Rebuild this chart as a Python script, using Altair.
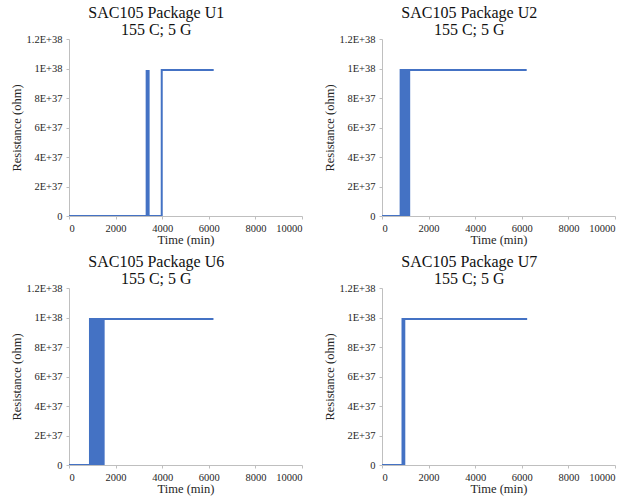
import altair as alt
import pandas as pd

BLUE = "#4472C4"
HIGH = 9.9e37

# Step traces (time in min, resistance in ohm)
u1_time = [0, 3980, 3980, 6210]
u1_res = [0, 0, HIGH, HIGH]
u2_time = [0, 800, 800, 6210]
u2_res = [0, 0, HIGH, HIGH]
u6_time = [0, 900, 900, 6200]
u6_res = [0, 0, HIGH, HIGH]
u7_time = [0, 880, 880, 6230]
u7_res = [0, 0, HIGH, HIGH]

# Intermittent (rapid open/short toggling) regions drawn as filled bands
u1_band = (3290, 3460)
u2_band = (800, 1210)
u6_band = (900, 1530)
u7_band = (870, 1000)

panels = [
    ("SAC105 Package U1", u1_time, u1_res, u1_band),
    ("SAC105 Package U2", u2_time, u2_res, u2_band),
    ("SAC105 Package U6", u6_time, u6_res, u6_band),
    ("SAC105 Package U7", u7_time, u7_res, u7_band),
]

x_ticks = [0, 2000, 4000, 6000, 8000, 10000]
y_ticks = [0, 2e37, 4e37, 6e37, 8e37, 1e38, 1.2e38]

FONT = "Liberation Serif"
TXT = "#262626"

common = dict(labelFont=FONT, titleFont=FONT, labelFontSize=10.5, titleFontSize=12.5,
              titleFontWeight="normal", labelColor=TXT, titleColor=TXT,
              domainColor="#BFBFBF", tickColor="#BFBFBF", tickSize=3, grid=False,
              labelOverlap=False, labelPadding=4)
XAX = alt.Axis(values=x_ticks, format="d", titlePadding=0, **common)
YAX = alt.Axis(values=y_ticks, titlePadding=3,
               labelExpr="datum.value == 0 ? '0' : upper(format(datum.value, '.2~e'))",
               **common)
XS = alt.Scale(domain=[0, 10000], nice=False)
YS = alt.Scale(domain=[0, 1.2e38], nice=False)


def panel(name, t, r, band):
    df = pd.DataFrame({"t": t, "r": r})
    bd = pd.DataFrame({"t": [band[0]], "t2": [band[1]], "r": [0], "r2": [HIGH]})
    line = alt.Chart(df).mark_line(color=BLUE, strokeWidth=2, clip=True).encode(
        x=alt.X("t:Q", scale=XS, title="Time (min)", axis=XAX),
        y=alt.Y("r:Q", scale=YS, title="Resistance (ohm)", axis=YAX),
    )
    rect = alt.Chart(bd).mark_rect(color=BLUE).encode(
        x=alt.X("t:Q", scale=XS, title="Time (min)", axis=XAX),
        x2="t2:Q",
        y=alt.Y("r:Q", scale=YS, title="Resistance (ohm)", axis=YAX),
        y2="r2:Q",
    )
    return alt.layer(line, rect).properties(
        width=233, height=177,
        title=alt.TitleParams(text=[name, "155 C; 5 G"], fontSize=16, font=FONT,
                              fontWeight="normal", color="#111111", lineHeight=17,
                              offset=-4, anchor="middle", frame="bounds"),
    )


row1 = alt.hconcat(panel(*panels[0]), panel(*panels[1]), spacing=20)
row2 = alt.hconcat(panel(*panels[2]), panel(*panels[3]), spacing=20)
chart = alt.vconcat(row1, row2, spacing=8).properties(
    padding={"left": 10, "top": 5, "right": 5, "bottom": 2}
).configure(font=FONT).configure_view(stroke=None)

chart.save("out.html", embed_options={"renderer": "svg", "actions": False})
